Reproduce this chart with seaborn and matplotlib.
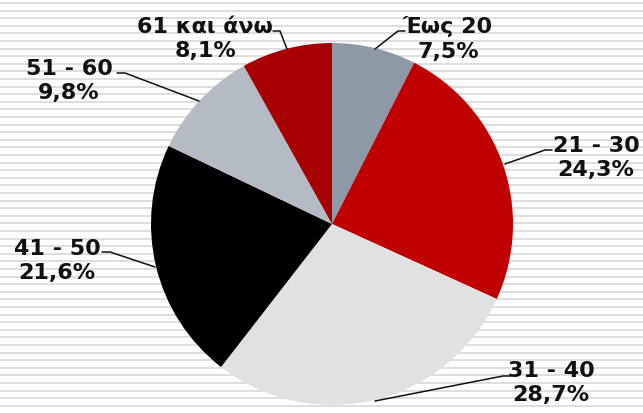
import matplotlib
matplotlib.use("Agg")
import matplotlib.pyplot as plt
import seaborn as sns

# DATA
age_groups = ["Έως 20", "21 - 30", "31 - 40", "41 - 50", "51 - 60", "61 και άνω"]
shares = [7.5, 24.3, 28.7, 21.6, 9.8, 8.1]
slice_colors = ["#8d99a6", "#c00000", "#e1e1e1", "#000000", "#b5bbc4", "#a80000"]

# LAYOUT (pixel coords, y downwards)
W, H = 643, 414
CENTER = (332, 225)
RADIUS = 181
# label block centre, leader path from label to pie edge
label_pos = {
    "Έως 20": (448, 39),
    "21 - 30": (596, 158),
    "31 - 40": (551, 383),
    "41 - 50": (57, 261),
    "51 - 60": (69, 81),
    "61 και άνω": (205, 39),
}
leaders = {
    "Έως 20": [(405, 32), (398, 32), (375, 50)],
    "21 - 30": [(552, 151), (545, 151), (505, 165)],
    "31 - 40": [(510, 377), (503, 377), (375, 402)],
    "41 - 50": [(102, 253), (110, 253), (155, 268)],
    "51 - 60": [(117, 74), (125, 74), (199, 102)],
    "61 και άνω": [(273, 32), (280, 32), (287, 50)],
}


def plot_age_pie():
    sns.set_theme(style="white")
    plt.rcParams["font.family"] = ["DejaVu Sans"]

    fig = plt.figure(figsize=(W / 100, H / 100), dpi=100)
    ax = fig.add_axes([0, 0, 1, 1])

    # striped background
    y = 4.0
    while y < H:
        ax.axhspan(y - 1.0, y + 1.0, color="#dedede", lw=0, zorder=0)
        y += 7.6

    # y axis points down, so counterclock=True runs clockwise on screen
    ax.pie(shares, colors=slice_colors, startangle=-90, counterclock=True,
           center=CENTER, radius=RADIUS,
           wedgeprops=dict(linewidth=0, zorder=2))

    for name, val in zip(age_groups, shares):
        pts = leaders[name]
        ax.plot([p[0] for p in pts], [p[1] for p in pts],
                color="#111111", lw=1.1, zorder=3)
        txt = f"{name}\n{val:.1f}%".replace(".", ",")
        x, yy = label_pos[name]
        ax.text(x, yy, txt, ha="center", va="center", fontsize=16,
                fontweight="bold", color="#111111", linespacing=1.3, zorder=4)

    ax.set_xlim(0, W)
    ax.set_ylim(H, 0)
    ax.set_aspect("equal")
    ax.axis("off")
    fig.patch.set_facecolor("white")

    fig.savefig("out.png", dpi=100, facecolor="white")


if __name__ == "__main__":
    plot_age_pie()
